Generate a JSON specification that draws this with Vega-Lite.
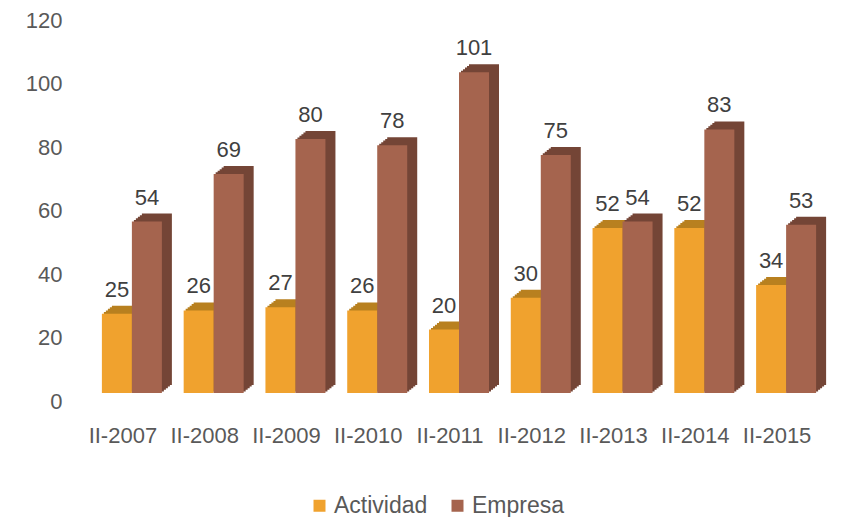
{
  "$schema": "https://vega.github.io/schema/vega-lite/v6.json",
  "width": 736,
  "height": 381,
  "autosize": {"type": "none"},
  "padding": {"left": 82, "top": 20, "right": 25, "bottom": 116},
  "background": "white",
  "config": {
    "view": {"stroke": null},
    "font": "Liberation Sans",
    "legend": {"orient": "none", "legendX": 226, "legendY": 474, "direction": "horizontal", "symbolType": "square", "symbolSize": 144, "symbolStrokeWidth": 0, "symbolOpacity": 1, "labelFontSize": 23, "labelColor": "#595959", "labelOffset": 3, "columnPadding": 18}
  },
  "data": {"values": [
    {"periodo": "II-2007", "serie": "Actividad", "valor": 25},
    {"periodo": "II-2007", "serie": "Empresa", "valor": 54},
    {"periodo": "II-2008", "serie": "Actividad", "valor": 26},
    {"periodo": "II-2008", "serie": "Empresa", "valor": 69},
    {"periodo": "II-2009", "serie": "Actividad", "valor": 27},
    {"periodo": "II-2009", "serie": "Empresa", "valor": 80},
    {"periodo": "II-2010", "serie": "Actividad", "valor": 26},
    {"periodo": "II-2010", "serie": "Empresa", "valor": 78},
    {"periodo": "II-2011", "serie": "Actividad", "valor": 20},
    {"periodo": "II-2011", "serie": "Empresa", "valor": 101},
    {"periodo": "II-2012", "serie": "Actividad", "valor": 30},
    {"periodo": "II-2012", "serie": "Empresa", "valor": 75},
    {"periodo": "II-2013", "serie": "Actividad", "valor": 52},
    {"periodo": "II-2013", "serie": "Empresa", "valor": 54},
    {"periodo": "II-2014", "serie": "Actividad", "valor": 52},
    {"periodo": "II-2014", "serie": "Empresa", "valor": 83},
    {"periodo": "II-2015", "serie": "Actividad", "valor": 34},
    {"periodo": "II-2015", "serie": "Empresa", "valor": 53}
  ]},
  "encoding": {
    "x": {
      "field": "periodo", "type": "nominal", "sort": null,
      "scale": {"paddingInner": 0.266, "paddingOuter": 0.133},
      "axis": {"title": null, "domain": false, "ticks": false, "labelAngle": 0, "labelFontSize": 22, "labelColor": "#595959", "labelPadding": 24, "labelLimit": 0}
    },
    "y": {
      "field": "valor", "type": "quantitative",
      "scale": {"domain": [0, 120], "nice": false},
      "axis": {"title": null, "domain": false, "ticks": false, "grid": false, "values": [0, 20, 40, 60, 80, 100, 120], "labelFontSize": 22, "labelColor": "#595959", "labelPadding": 20}
    }
  },
  "layer": [
    {"transform": [{"filter": "datum.serie == 'Actividad'"}],
     "layer": [
      {"mark": {"type": "bar", "width": 30, "color": "#B8801F", "xOffset": -4, "yOffset": -9.6, "y2Offset": -9.6}},
      {"mark": {"type": "bar", "width": 30, "color": "#B8801F", "xOffset": -2, "yOffset": -11.2, "y2Offset": -11.2}},
      {"mark": {"type": "bar", "width": 30, "color": "#B8801F", "xOffset": 0, "yOffset": -12.8, "y2Offset": -12.8}},
      {"mark": {"type": "bar", "width": 30, "color": "#B8801F", "xOffset": 2, "yOffset": -14.4, "y2Offset": -14.4}},
      {"mark": {"type": "bar", "width": 30, "color": "#B8801F", "xOffset": 4, "yOffset": -16, "y2Offset": -16}}
     ]},
    {"transform": [{"filter": "datum.serie == 'Empresa'"}],
     "layer": [
      {"mark": {"type": "bar", "width": 30, "color": "#744536", "xOffset": 26, "yOffset": -9.6, "y2Offset": -9.6}},
      {"mark": {"type": "bar", "width": 30, "color": "#744536", "xOffset": 28, "yOffset": -11.2, "y2Offset": -11.2}},
      {"mark": {"type": "bar", "width": 30, "color": "#744536", "xOffset": 30, "yOffset": -12.8, "y2Offset": -12.8}},
      {"mark": {"type": "bar", "width": 30, "color": "#744536", "xOffset": 32, "yOffset": -14.4, "y2Offset": -14.4}},
      {"mark": {"type": "bar", "width": 30, "color": "#744536", "xOffset": 34, "yOffset": -16, "y2Offset": -16}}
     ]},
    {"transform": [{"filter": "datum.serie == 'Actividad'"}],
     "layer": [
      {"mark": {"type": "bar", "width": 30, "xOffset": -6, "yOffset": -8, "y2Offset": -8, "opacity": 1},
       "encoding": {"color": {"field": "serie", "type": "nominal",
         "scale": {"domain": ["Actividad", "Empresa"], "range": ["#F0A22E", "#A5644E"]},
         "legend": {"title": null}}}},
      {"mark": {"type": "text", "dx": -6, "dy": -25, "baseline": "alphabetic", "fontSize": 22, "color": "#404040"},
       "encoding": {"text": {"field": "valor", "type": "quantitative"}}}
     ]},
    {"transform": [{"filter": "datum.serie == 'Empresa'"}],
     "layer": [
      {"mark": {"type": "bar", "width": 30, "xOffset": 24, "yOffset": -8, "y2Offset": -8, "opacity": 1},
       "encoding": {"color": {"field": "serie", "type": "nominal", "legend": {"title": null}}}},
      {"mark": {"type": "text", "dx": 24, "dy": -25, "baseline": "alphabetic", "fontSize": 22, "color": "#404040"},
       "encoding": {"text": {"field": "valor", "type": "quantitative"}}}
     ]}
  ]
}
